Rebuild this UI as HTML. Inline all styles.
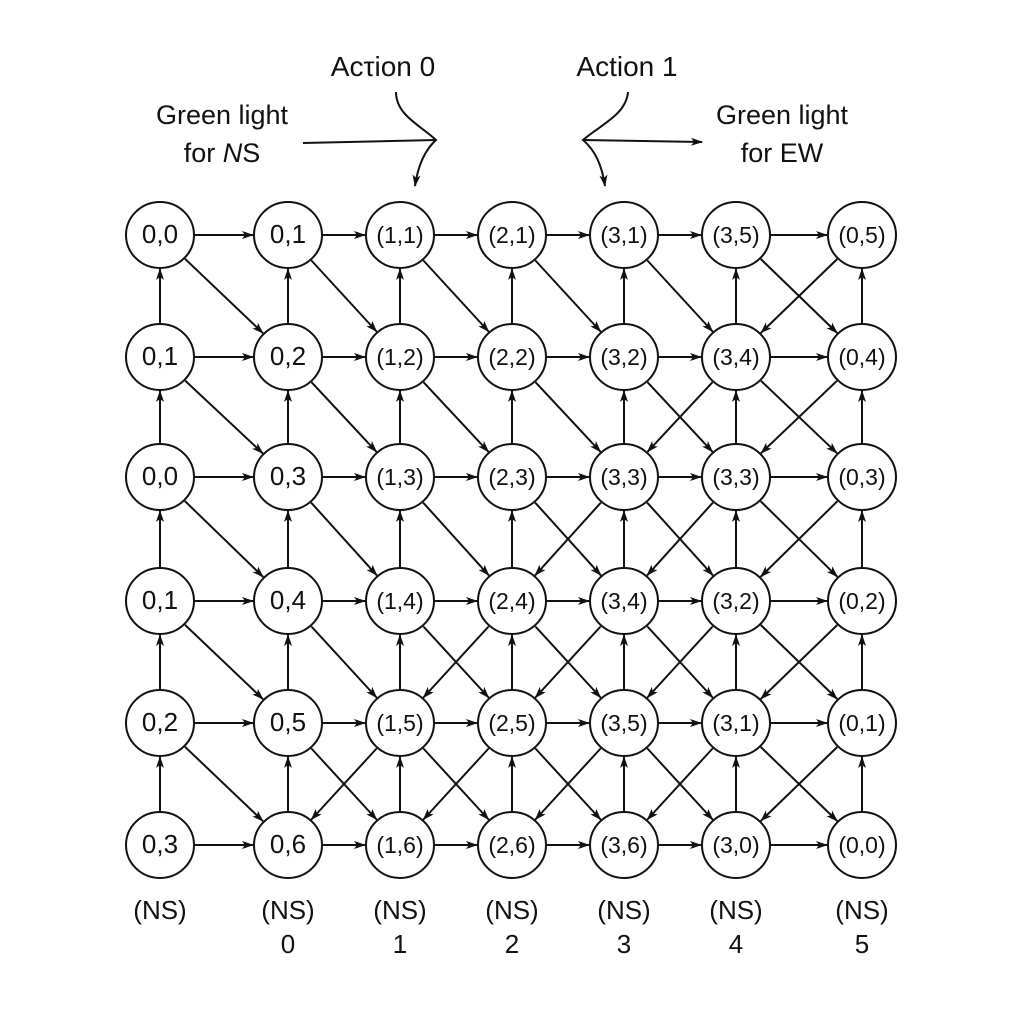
<!DOCTYPE html>
<html><head><meta charset="utf-8"><style>
html,body{margin:0;padding:0;background:#fff}
svg{display:block}
text{font-family:"Liberation Sans",sans-serif;fill:#111}
</style></head><body>
<svg id="g" width="1024" height="1024" viewBox="0 0 1024 1024" xmlns="http://www.w3.org/2000/svg">
<defs><marker id="ah" viewBox="0 0 12 8" refX="11" refY="4" markerWidth="12" markerHeight="8" markerUnits="userSpaceOnUse" orient="auto"><path d="M0,0 L12,4 L0,8 L3,4 Z" fill="#111"/></marker></defs>
<g>
<text x="383" y="76" font-size="28" text-anchor="middle">Acτion 0</text>
<text x="627" y="76" font-size="28" text-anchor="middle">Action 1</text>
<text x="222" y="124" font-size="27" text-anchor="middle">Green light</text>
<text x="222" y="162" font-size="27" text-anchor="middle">for <tspan font-style="italic">N</tspan>S</text>
<text x="782" y="124" font-size="27" text-anchor="middle">Green light</text>
<text x="782" y="162" font-size="27" text-anchor="middle">for EW</text>
<path d="M396,92 C396,115 420,125 436,140 C425,150 418,165 415,186" fill="none" stroke="#111" stroke-width="2" marker-end="url(#ah)"/>
<path d="M303,143 L436,140" fill="none" stroke="#111" stroke-width="2"/>
<path d="M628,92 C626,115 600,125 583,140 C595,150 602,165 605,186" fill="none" stroke="#111" stroke-width="2" marker-end="url(#ah)"/>
<path d="M583,140 L702,142" fill="none" stroke="#111" stroke-width="2" marker-end="url(#ah)"/>
</g>
<g id="edges"></g>
<g id="nodes"></g>
<g id="bottom"></g>
</svg>
<script>
const colX = [160, 288, 400, 512, 624, 736, 862];
const rowY = [235, 357, 477, 601, 723, 845];
const nodeLabels = [
 ["0,0","0,1","(1,1)","(2,1)","(3,1)","(3,5)","(0,5)"],
 ["0,1","0,2","(1,2)","(2,2)","(3,2)","(3,4)","(0,4)"],
 ["0,0","0,3","(1,3)","(2,3)","(3,3)","(3,3)","(0,3)"],
 ["0,1","0,4","(1,4)","(2,4)","(3,4)","(3,2)","(0,2)"],
 ["0,2","0,5","(1,5)","(2,5)","(3,5)","(3,1)","(0,1)"],
 ["0,3","0,6","(1,6)","(2,6)","(3,6)","(3,0)","(0,0)"]
];
const downLeftStartCol = [6, 5, 4, 3, 2];
const bottomTop = ["(NS)","(NS)","(NS)","(NS)","(NS)","(NS)","(NS)"];
const bottomNum = ["","0","1","2","3","4","5"];
const RX = 34, RY = 33, NS = "http://www.w3.org/2000/svg";
const E = document.getElementById('edges'), N = document.getElementById('nodes'), B = document.getElementById('bottom');
function trim(x1,y1,x2,y2){
  const dx=x2-x1, dy=y2-y1, L=Math.hypot(dx,dy), ux=dx/L, uy=dy/L;
  const t=1/Math.sqrt((ux/RX)**2+(uy/RY)**2);
  return [x1+ux*(t+1), y1+uy*(t+1), x2-ux*(t+1), y2-uy*(t+1)];
}
function edge(r1,c1,r2,c2,name){
  const p=trim(colX[c1],rowY[r1],colX[c2],rowY[r2]);
  const l=document.createElementNS(NS,'line');
  l.setAttribute('x1',p[0]);l.setAttribute('y1',p[1]);l.setAttribute('x2',p[2]);l.setAttribute('y2',p[3]);
  l.setAttribute('stroke','#111');l.setAttribute('stroke-width','2');l.setAttribute('marker-end','url(#ah)');
  
  
  E.appendChild(l);
}
for(let r=0;r<rowY.length;r++){
  for(let c=0;c<colX.length;c++){
    if(c<colX.length-1) edge(r,c,r,c+1,'right-arrow');
    if(r>0) edge(r,c,r-1,c,'up-arrow');
    if(r<rowY.length-1 && c<colX.length-1) edge(r,c,r+1,c+1,'down-right-arrow');
    if(r<rowY.length-1 && c>=downLeftStartCol[r] && c>0) edge(r,c,r+1,c-1,'down-left-arrow');
  }
}
for(let r=0;r<rowY.length;r++){
  for(let c=0;c<colX.length;c++){
    const g=document.createElementNS(NS,'g');
    
    
    const e=document.createElementNS(NS,'ellipse');
    e.setAttribute('cx',colX[c]);e.setAttribute('cy',rowY[r]);e.setAttribute('rx',RX);e.setAttribute('ry',RY);
    e.setAttribute('fill','#fff');e.setAttribute('stroke','#111');e.setAttribute('stroke-width','2');
    const t=document.createElementNS(NS,'text');
    t.setAttribute('x',colX[c]);t.setAttribute('y',rowY[r]+8);t.setAttribute('text-anchor','middle');
    const lab=nodeLabels[r][c];
    t.setAttribute('font-size', lab.length>3?'23':'26');
    t.textContent=lab;
    g.appendChild(e);g.appendChild(t);N.appendChild(g);
  }
}
for(let c=0;c<colX.length;c++){
  const t=document.createElementNS(NS,'text');
  t.setAttribute('x',colX[c]);t.setAttribute('y',919);t.setAttribute('text-anchor','middle');t.setAttribute('font-size','26');
  t.textContent=bottomTop[c];
  
  
  B.appendChild(t);
  if(bottomNum[c]){
    const n=document.createElementNS(NS,'text');
    n.setAttribute('x',colX[c]);n.setAttribute('y',953);n.setAttribute('text-anchor','middle');n.setAttribute('font-size','26');
    n.textContent=bottomNum[c];
    
    
    B.appendChild(n);
  }
}
</script>
</body></html>
